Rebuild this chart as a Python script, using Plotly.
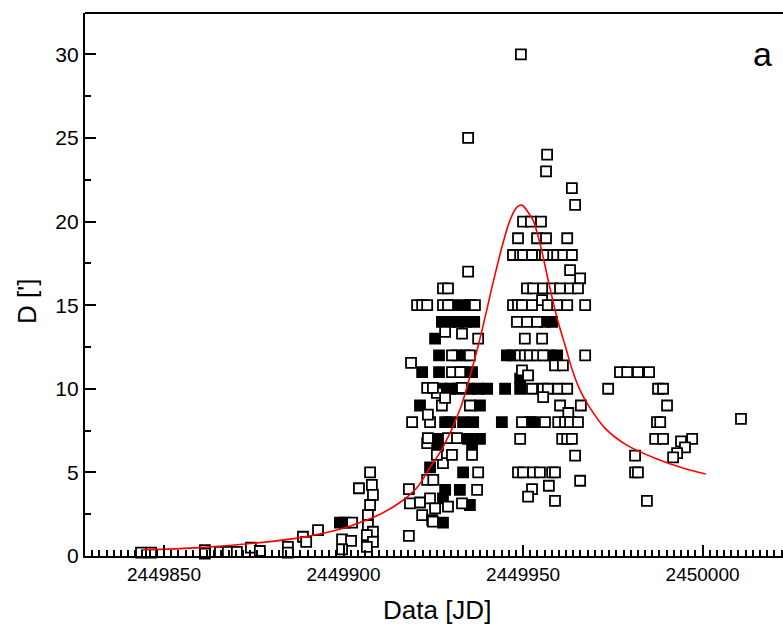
import plotly.graph_objects as go

# Open squares: Julian date, D [']
jd_open = [2449843.6, 2449846.4, 2449861.4, 2449861.4, 2449865.6, 2449867.8, 2449870.3, 2449874.2, 2449876.7,
           2449884.5, 2449884.5, 2449888.7, 2449889.6, 2449892.9, 2449902.4, 2449899.6, 2449902.1, 2449899.6,
           2449907.4, 2449904.3, 2449907.9, 2449908.2, 2449907.4, 2449906.8, 2449906.8, 2449908.2, 2449906.5,
           2449908.2, 2449906.5,
           2449918.2, 2449918.2, 2449918.5, 2449921.3, 2449921.9, 2449924.1, 2449925.5, 2449924.7, 2449929.1,
           2449933.0, 2449924.9, 2449923.3, 2449925.0, 2449927.7, 2449937.5, 2449937.2, 2449926.0, 2449930.2,
           2449935.8, 2449923.3, 2449923.5, 2449929.1, 2449931.6, 2449919.1, 2449924.1, 2449923.5, 2449927.4,
           2449935.2, 2449926.0, 2449928.3, 2449923.3, 2449924.9, 2449933.0, 2449918.8, 2449930.2, 2449932.5,
           2449930.2, 2449935.2, 2449928.3, 2449933.0, 2449937.5, 2449920.5, 2449921.9, 2449923.3, 2449927.7,
           2449929.1, 2449936.6, 2449927.7, 2449929.1, 2449934.7, 2449934.7,
           2449949.4, 2449956.7, 2449956.4, 2449963.6, 2449964.5, 2449950.0, 2449952.2, 2449955.0, 2449948.6,
           2449953.9, 2449956.4, 2449962.3, 2449947.2, 2449949.2, 2449950.0, 2449952.5, 2449955.3, 2449956.1,
           2449958.4, 2449959.5, 2449961.2, 2449963.6, 2449963.1, 2449965.9, 2449951.1, 2449952.8, 2449955.6,
           2449958.1, 2449960.3, 2449963.1, 2449965.3, 2449947.2, 2449948.6, 2449949.7, 2449952.5, 2449955.3,
           2449956.9, 2449959.5, 2449962.3, 2449967.3, 2449948.3, 2449951.1, 2449953.9, 2449950.5, 2449955.3,
           2449949.2, 2449950.5, 2449951.9, 2449953.9, 2449955.6, 2449967.3, 2449958.9, 2449961.1, 2449949.7,
           2449951.4, 2449952.5, 2449955.6, 2449956.9, 2449959.8, 2449962.3, 2449973.7, 2449987.6, 2449989.0,
           2449955.6, 2449960.3, 2449966.1, 2449990.1, 2449962.6, 2449949.7, 2449956.1, 2449959.8, 2449961.7,
           2449963.1, 2449965.3, 2449987.3, 2449988.2, 2450010.7, 2449949.2, 2449960.9, 2449962.3, 2449963.6,
           2449986.8, 2449989.0, 2449997.1, 2449994.0, 2449995.1, 2449992.9, 2449991.8, 2449964.5, 2449981.2,
           2449948.6, 2449950.0, 2449952.8, 2449954.7, 2449958.1, 2449958.9, 2449981.2, 2449982.0, 2449965.9,
           2449957.2, 2449952.5, 2449951.4, 2449958.9, 2449984.5, 2449977.0, 2449979.0, 2449982.0, 2449985.1]
d_open = [0.2, 0.2, 0.35, 0.15, 0.25, 0.25, 0.25, 0.5, 0.3,
          0.55, 0.2, 1.15, 0.85, 1.55, 2.0, 1.0, 0.9, 0.4,
          5.0, 4.05, 4.25, 3.65, 3.05, 2.45, 1.85, 1.45, 1.25,
          0.85, 0.55,
          4.0, 1.2, 3.15, 3.2, 2.45, 3.45, 2.85, 2.15, 2.95,
          3.15, 2.05, 4.55, 4.55, 5.55, 5.0, 3.95, 6.05, 6.05,
          6.05, 6.75, 7.05, 7.05, 7.05, 8.0, 8.0, 8.45, 9.0,
          9.0, 9.75, 9.45, 10.05, 10.05, 10.05, 11.55, 11.0, 11.0,
          12.0, 12.0, 13.4, 13.3, 13.0, 15.0, 15.0, 15.0, 15.0,
          15.0, 15.0, 16.0, 16.0, 17.0, 25.0,
          30.0, 24.0, 23.0, 22.0, 21.0, 20.0, 20.0, 20.0, 19.0,
          19.0, 19.0, 19.0, 18.0, 18.0, 18.0, 18.0, 18.0, 18.0,
          18.0, 18.0, 18.0, 18.0, 17.1, 16.6, 16.0, 16.0, 16.0,
          16.0, 16.0, 16.0, 16.0, 15.0, 15.0, 15.0, 15.0, 15.3,
          15.0, 15.0, 15.0, 15.0, 14.0, 14.0, 14.0, 13.0, 13.0,
          12.0, 12.0, 12.0, 12.0, 12.0, 12.0, 11.4, 11.4, 11.1,
          10.8, 10.0, 10.0, 10.0, 10.0, 10.0, 10.0, 10.0, 10.0,
          9.5, 9.0, 9.0, 9.0, 8.55, 8.0, 8.0, 8.0, 8.0,
          8.0, 8.0, 8.0, 8.0, 8.2, 7.0, 7.0, 7.0, 7.0,
          7.0, 7.0, 7.0, 6.85, 6.5, 6.15, 5.9, 6.0, 6.0,
          5.0, 5.0, 5.0, 5.0, 5.0, 5.0, 5.0, 5.0, 4.5,
          4.2, 4.0, 3.55, 3.3, 3.3, 11.0, 11.0, 11.0, 11.0]

# Filled squares
jd_filled = [2449899.0, 2449900.4, 2449927.4, 2449929.7, 2449931.9, 2449934.1, 2449936.4, 2449930.5, 2449933.3,
             2449935.2, 2449925.5, 2449926.6, 2449931.6, 2449933.8, 2449921.9, 2449926.6, 2449933.3, 2449935.8,
             2449927.4, 2449929.7, 2449931.9, 2449935.2, 2449937.5, 2449940.0, 2449945.0, 2449949.2, 2449949.2,
             2449921.3, 2449938.0, 2449928.3, 2449929.7, 2449933.3, 2449936.1, 2449944.1, 2449952.0, 2449952.8,
             2449926.0, 2449934.7, 2449938.0, 2449926.3, 2449935.8, 2449924.1, 2449933.3, 2449928.3, 2449932.4,
             2449927.7, 2449935.2, 2449927.7, 2449945.5, 2449946.9, 2449956.1, 2449958.1, 2449957.5, 2449959.5]
d_filled = [2.0, 2.0, 14.0, 14.0, 14.0, 14.0, 14.0, 15.0, 15.0,
            15.0, 13.0, 12.0, 12.0, 12.0, 11.0, 11.0, 11.0, 11.0,
            10.0, 10.0, 10.0, 10.0, 10.0, 10.0, 10.0, 10.0, 10.6,
            9.0, 9.0, 8.0, 8.0, 8.0, 8.0, 8.0, 8.0, 8.0,
            7.0, 7.0, 7.0, 6.6, 6.75, 5.3, 5.0, 3.95, 3.95,
            3.45, 3.05, 2.0, 12.0, 12.0, 14.0, 14.0, 12.0, 12.0]

# Fitted curve (red)
jd_fit = [2449843.6, 2449860.0, 2449876.7, 2449887.9, 2449899.0, 2449904.6, 2449910.2, 2449915.7, 2449920.5,
          2449924.1, 2449927.7, 2449932.5, 2449938.0, 2449941.6, 2449944.4, 2449946.4, 2449948.3, 2449949.7,
          2449951.4, 2449952.8, 2449954.7, 2449957.0, 2449959.5, 2449961.7, 2449963.9, 2449965.9, 2449968.5,
          2449972.8, 2449978.9, 2449987.3, 2449994.5, 2450000.9]
d_fit = [0.36, 0.5, 0.8, 1.1, 1.6, 2.0, 2.5, 3.2, 4.1,
         5.3, 6.5, 8.8, 13.0, 16.3, 18.7, 20.1, 20.86, 20.98,
         20.56, 20.08, 18.71, 16.49, 14.2, 12.6, 11.0, 9.9, 8.9,
         7.65, 6.63, 5.80, 5.26, 4.90]

x_ticks = [2449850, 2449900, 2449950, 2450000]
y_ticks = [0, 5, 10, 15, 20, 25, 30]

FONT = "Arial, Liberation Sans, Helvetica, sans-serif"

fig = go.Figure()
fig.add_trace(go.Scatter(x=jd_filled, y=d_filled, mode="markers", cliponaxis=False,
                         marker=dict(symbol="square", size=10, color="black",
                                     line=dict(color="black", width=1.8)),
                         showlegend=False))
fig.add_trace(go.Scatter(x=jd_open, y=d_open, mode="markers", cliponaxis=False,
                         marker=dict(symbol="square", size=10, color="white",
                                     line=dict(color="black", width=1.8)),
                         showlegend=False))
fig.add_trace(go.Scatter(x=jd_fit, y=d_fit, mode="lines",
                         line=dict(color="red", width=1.6, shape="spline", smoothing=0.9),
                         showlegend=False))

fig.update_layout(
    width=783, height=632,
    margin=dict(l=85, r=0, t=13, b=76),
    paper_bgcolor="white", plot_bgcolor="white",
    font=dict(family=FONT, color="black"),
    xaxis=dict(range=[2449828.0, 2450022.4], tickvals=x_ticks, ticktext=[str(v) for v in x_ticks],
               showgrid=False, zeroline=False, showline=True, linecolor="black", linewidth=2.2,
               ticks="inside", ticklen=11, tickwidth=2, tickcolor="black",
               tickfont=dict(size=19, family=FONT),
               minor=dict(dtick=2, tick0=2449850, ticks="inside", ticklen=6, tickwidth=2, tickcolor="black")),
    yaxis=dict(range=[0, 32.47], tickvals=y_ticks,
               showgrid=False, zeroline=False, showline=True, linecolor="black", linewidth=2.2,
               ticks="inside", ticklen=11, tickwidth=2, tickcolor="black",
               tickfont=dict(size=21, family=FONT),
               minor=dict(dtick=2.5, tick0=0, ticks="inside", ticklen=6, tickwidth=2, tickcolor="black")),
    shapes=[dict(type="line", xref="paper", yref="paper", x0=0, x1=1, y0=1, y1=1,
                 line=dict(color="black", width=2.2))],
    annotations=[
        dict(text="Data [JD]", xref="paper", yref="paper", x=0.505, y=-0.1, yanchor="middle",
             showarrow=False, font=dict(size=26, family=FONT)),
        dict(text="D [']", xref="paper", yref="paper", x=-0.083, y=0.468, textangle=-90,
             xanchor="center", yanchor="middle", showarrow=False, font=dict(size=26, family=FONT)),
        dict(text="a", xref="paper", yref="paper", x=0.97, y=0.925, xanchor="center", yanchor="middle",
             showarrow=False, font=dict(size=34, family=FONT)),
    ],
)

fig.write_html("out.html")
